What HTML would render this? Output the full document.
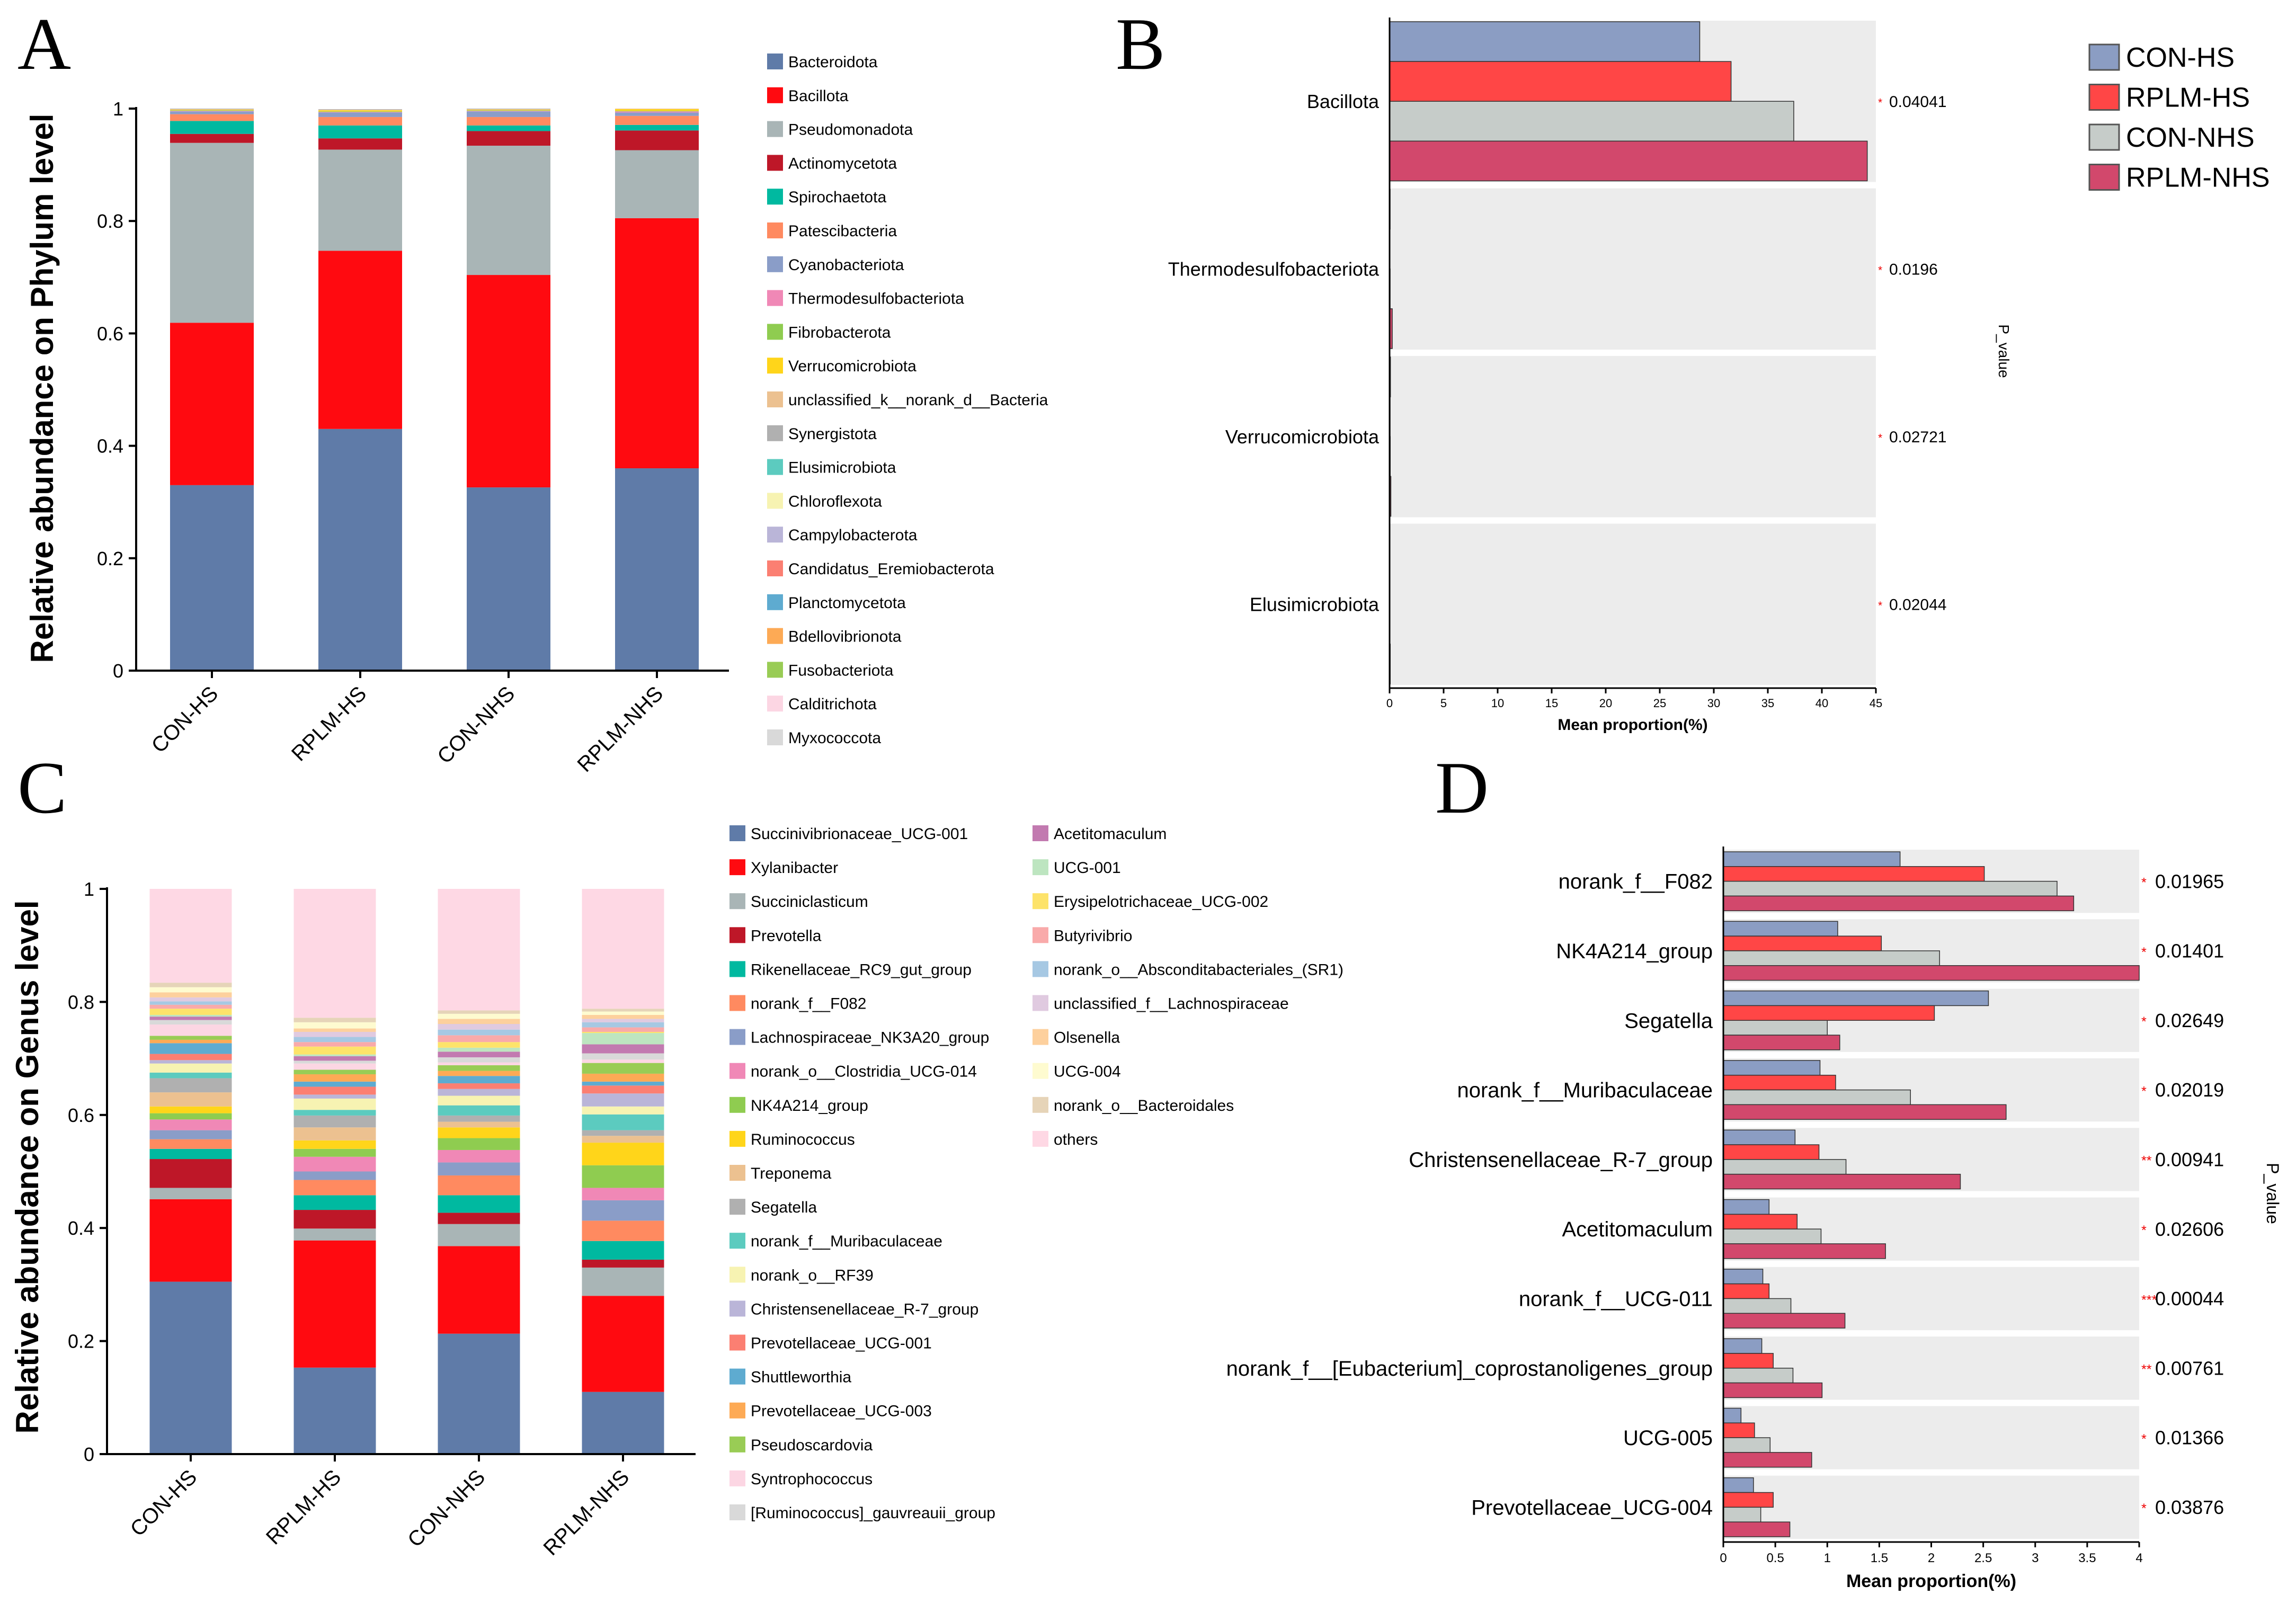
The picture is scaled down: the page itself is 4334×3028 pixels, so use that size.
<!DOCTYPE html>
<html><head><meta charset="utf-8"><style>
html,body{margin:0;padding:0;background:#fff}
svg{display:block;font-family:"Liberation Sans",Arial,sans-serif}
</style></head><body>
<svg id="fig" width="4334" height="3028" viewBox="0 0 4334 3028" xmlns="http://www.w3.org/2000/svg"></svg>
<script>
// ---------- DATA ----------
const groups = ["CON-HS","RPLM-HS","CON-NHS","RPLM-NHS"];
const groupColors = ["#8b9dc3","#ff4646","#c6ccc9","#d2486c"];
const phyla = ["Bacteroidota","Bacillota","Pseudomonadota","Actinomycetota","Spirochaetota","Patescibacteria","Cyanobacteriota","Thermodesulfobacteriota","Fibrobacterota","Verrucomicrobiota","unclassified_k__norank_d__Bacteria","Synergistota","Elusimicrobiota","Chloroflexota","Campylobacterota","Candidatus_Eremiobacterota","Planctomycetota","Bdellovibrionota","Fusobacteriota","Calditrichota","Myxococcota"];
const paletteA = ["#5f7ba8","#ff0a10","#a9b5b6","#be1728","#00b9a0","#ff8a60","#8a9dc8","#f088b6","#8fcc50","#ffd51a","#ecc190","#b0b0b0","#5ccbbf","#f7f3b2","#bab5d8","#fb7f72","#5eabd0","#fdaa55","#99cc55","#fcd6e3","#d9d9d9"];
const phylumConHS   = [0.330,0.289,0.320,0.016,0.023,0.012,0.005,0.001,0.001,0.001,0.001,0.001,0,0,0,0,0,0,0,0,0];
const phylumRplmHS  = [0.430,0.317,0.180,0.020,0.023,0.015,0.008,0.001,0.001,0.002,0.001,0.001,0,0,0,0,0,0,0,0,0];
const phylumConNHS  = [0.326,0.378,0.230,0.026,0.010,0.015,0.010,0.001,0.001,0.001,0.001,0.001,0,0,0,0,0,0,0,0,0];
const phylumRplmNHS = [0.360,0.445,0.121,0.035,0.010,0.016,0.006,0.002,0.001,0.003,0.001,0,0,0,0,0,0,0,0,0,0];
const genera = ["Succinivibrionaceae_UCG-001","Xylanibacter","Succiniclasticum","Prevotella","Rikenellaceae_RC9_gut_group","norank_f__F082","Lachnospiraceae_NK3A20_group","norank_o__Clostridia_UCG-014","NK4A214_group","Ruminococcus","Treponema","Segatella","norank_f__Muribaculaceae","norank_o__RF39","Christensenellaceae_R-7_group","Prevotellaceae_UCG-001","Shuttleworthia","Prevotellaceae_UCG-003","Pseudoscardovia","Syntrophococcus","[Ruminococcus]_gauvreauii_group","Acetitomaculum","UCG-001","Erysipelotrichaceae_UCG-002","Butyrivibrio","norank_o__Absconditabacteriales_(SR1)","unclassified_f__Lachnospiraceae","Olsenella","UCG-004","norank_o__Bacteroidales","others"];
const paletteC = ["#5f7ba8","#ff0a10","#a9b5b6","#be1728","#00b9a0","#ff8a60","#8a9dc8","#f088b6","#8fcc50","#ffd51a","#ecc190","#b0b0b0","#5ccbbf","#f7f3b2","#bab5d8","#fb7f72","#5eabd0","#fdaa55","#99cc55","#fcd6e3","#d9d9d9","#c27ab0","#bde5c0","#fde36a","#f9aaaa","#a6c8e3","#e0cae0","#fdd09d","#fefbd0","#e6d4b8","#fed8e4"];
const genusConHS   = [0.305,0.146,0.020,0.051,0.018,0.017,0.016,0.019,0.011,0.012,0.025,0.025,0.010,0.016,0.006,0.011,0.019,0.006,0.007,0.020,0.008,0.006,0.003,0.011,0.007,0.006,0.007,0.009,0.009,0.008,0.166];
const genusRplmHS  = [0.153,0.225,0.021,0.033,0.026,0.027,0.015,0.026,0.014,0.015,0.023,0.021,0.010,0.020,0.007,0.014,0.009,0.013,0.008,0.011,0.005,0.008,0.003,0.014,0.008,0.009,0.009,0.006,0.011,0.008,0.228];
const genusConNHS  = [0.213,0.155,0.039,0.020,0.031,0.035,0.023,0.022,0.021,0.019,0.010,0.011,0.018,0.017,0.012,0.010,0.013,0.009,0.010,0.005,0.009,0.010,0.007,0.010,0.012,0.010,0.010,0.009,0.009,0.006,0.215];
const genusRplmNHS = [0.110,0.170,0.050,0.014,0.033,0.036,0.036,0.022,0.040,0.040,0.012,0.010,0.028,0.014,0.023,0.014,0.007,0.014,0.019,0.006,0.011,0.016,0.020,0.002,0.008,0.009,0.006,0.007,0.006,0.005,0.212];
const yTicksStack = [0,0.2,0.4,0.6,0.8,1];
const yTickLabelsStack = ["0","0.2","0.4","0.6","0.8","1"];
const taxaB = ["Bacillota","Thermodesulfobacteriota","Verrucomicrobiota","Elusimicrobiota"];
const bConHS   = [28.7,0.05,0.08,0.03];
const bRplmHS  = [31.6,0.03,0.05,0.02];
const bConNHS  = [37.4,0.05,0.06,0.02];
const bRplmNHS = [44.2,0.25,0.12,0.06];
const pB = ["0.04041","0.0196","0.02721","0.02044"];
const starsB = ["*","*","*","*"];
const xTicksB = [0,5,10,15,20,25,30,35,40,45];
const taxaD = ["norank_f__F082","NK4A214_group","Segatella","norank_f__Muribaculaceae","Christensenellaceae_R-7_group","Acetitomaculum","norank_f__UCG-011","norank_f__[Eubacterium]_coprostanoligenes_group","UCG-005","Prevotellaceae_UCG-004"];
const dConHS   = [1.70,1.10,2.55,0.93,0.69,0.44,0.38,0.37,0.17,0.29];
const dRplmHS  = [2.51,1.52,2.03,1.08,0.92,0.71,0.44,0.48,0.30,0.48];
const dConNHS  = [3.21,2.08,1.00,1.80,1.18,0.94,0.65,0.67,0.45,0.36];
const dRplmNHS = [3.37,4.00,1.12,2.72,2.28,1.56,1.17,0.95,0.85,0.64];
const pD = ["0.01965","0.01401","0.02649","0.02019","0.00941","0.02606","0.00044","0.00761","0.01366","0.03876"];
const starsD = ["*","*","*","*","**","*","***","**","*","*"];
const xTicksD = [0,0.5,1,1.5,2,2.5,3,3.5,4];
const xTickLabelsD = ["0","0.5","1","1.5","2","2.5","3","3.5","4"];

// ---------- HELPERS ----------
const NS="http://www.w3.org/2000/svg";
const svg=document.getElementById('fig');
function mk(tag,attrs,parent){const e=document.createElementNS(NS,tag);for(const k in attrs)e.setAttribute(k,attrs[k]);(parent||svg).appendChild(e);return e;}
function txt(s,attrs,parent){const e=mk('text',attrs,parent);e.textContent=s;return e;}

// ---------- PANEL LETTERS ----------
[["A",33,130],["B",2106,130],["C",33,1534],["D",2709,1534]].forEach(([l,x,y])=>{
  const t=txt(l,{x:x,y:y,'font-size':140,'font-family':'"Liberation Serif",serif'});
  
  
});

// ---------- STACKED PANELS ----------
function stacked(cfg){
  const g=mk('g',{});
  
  
  const yS=v=>cfg.y0-(cfg.y0-cfg.y1)*v;
  const series=cfg.series;
  groups.forEach((grp,i)=>{
    const cx=cfg.x0+cfg.firstC+i*cfg.step;
    let acc=0;
    series[i].forEach((v,j)=>{
      if(v<=0)return;
      const r=mk('rect',{x:cx-cfg.bw/2,y:yS(acc+v),width:cfg.bw,height:yS(acc)-yS(acc+v),fill:cfg.colors[j]},g);
      
      
      acc+=v;
    });
    const tk=mk('line',{x1:cx,x2:cx,y1:cfg.y0,y2:cfg.y0+14,stroke:'#000','stroke-width':4},g);
    
    
    const lb=txt(grp,{x:cx+14,y:cfg.y0+46,'font-size':40,'text-anchor':'end',transform:`rotate(-45 ${cx+14} ${cfg.y0+46})`},g);
    
    
  });
  const ax=mk('line',{x1:cfg.x0,x2:cfg.x0,y1:cfg.y1-3,y2:cfg.y0,stroke:'#000','stroke-width':4},g);
  
  
  const bx=mk('line',{x1:cfg.x0-14,x2:cfg.xEnd,y1:cfg.y0,y2:cfg.y0,stroke:'#000','stroke-width':4},g);
  
  
  yTicksStack.forEach((v,k)=>{
    const t=mk('line',{x1:cfg.x0-14,x2:cfg.x0,y1:yS(v),y2:yS(v),stroke:'#000','stroke-width':4},g);
    
    
    const l=txt(yTickLabelsStack[k],{x:cfg.x0-24,y:yS(v)+13,'font-size':36,'text-anchor':'end'},g);
    
    
  });
  const yt=txt(cfg.ytitle,{x:cfg.tx,y:cfg.ty,'font-size':60,'font-weight':'bold','text-anchor':'middle',transform:`rotate(-90 ${cfg.tx} ${cfg.ty})`},g);
  
  
  cfg.legendCols.forEach(col=>{
    for(let k=col.from;k<col.to;k++){
      const yy=col.y+(k-col.from)*cfg.lstep;
      const sq=mk('rect',{x:col.x,y:yy-15,width:30,height:30,fill:cfg.colors[k]},g);
      
      
      const lt=txt(cfg.labels[k],{x:col.x+40,y:yy+11,'font-size':30},g);
      
      
    }
  });
}
stacked({name:'panel-a-phylum-chart',x0:257,y0:1266,y1:205,xEnd:1376,firstC:143,step:280,bw:158,
  series:[phylumConHS,phylumRplmHS,phylumConNHS,phylumRplmNHS],colors:paletteA,labels:phyla,
  ytitle:'Relative abundance on Phylum level',tx:100,ty:733,
  legendCols:[{x:1448,y:116,from:0,to:21}],lstep:63.8});
stacked({name:'panel-c-genus-chart',x0:202,y0:2745,y1:1678,xEnd:1313,firstC:158,step:272,bw:155,
  series:[genusConHS,genusRplmHS,genusConNHS,genusRplmNHS],colors:paletteC,labels:genera,
  ytitle:'Relative abundance on Genus level',tx:72,ty:2203,
  legendCols:[{x:1377,y:1573,from:0,to:21},{x:1949,y:1573,from:21,to:31}],lstep:64.1});

// ---------- HORIZONTAL BAR PANELS ----------
function hbar(cfg){
  const g=mk('g',{});
  
  
  const xS=v=>cfg.x0+(cfg.x1-cfg.x0)*v/cfg.max;
  const n=cfg.taxa.length;
  const gh=(cfg.yb-cfg.yt)/n;
  cfg.taxa.forEach((tx,i)=>{
    const top=cfg.yt+i*gh;
    const bg=mk('rect',{x:cfg.x0,y:top+cfg.gap,width:cfg.x1-cfg.x0,height:gh-2*cfg.gap,fill:'#ececec'},g);
    
    
    const bh=(gh-2*cfg.gap-cfg.pad*2)/4;
    cfg.series.forEach((s,j)=>{
      const w=Math.max(xS(s[i])-cfg.x0,0);
      const r=mk('rect',{x:cfg.x0,y:top+cfg.gap+cfg.pad+j*bh,width:w,height:bh,fill:groupColors[j],stroke:'#333','stroke-width':1.5},g);
      
      
    });
    const cy=top+gh/2;
    const lb=txt(tx,{x:cfg.x0-20,y:cy+cfg.lf*0.35,'font-size':cfg.lf,'text-anchor':'end'},g);
    
    
    const st=txt(cfg.stars[i],{x:cfg.x1+4,y:cy+cfg.pf*0.3,'font-size':cfg.pf*0.7,fill:'#e00'},g);
    
    
    const pv=txt(cfg.p[i],{x:cfg.px,y:cy+cfg.pf*0.35,'font-size':cfg.pf},g);
    
    
  });
  const ax=mk('line',{x1:cfg.x0,x2:cfg.x0,y1:cfg.yt,y2:cfg.yb,stroke:'#000','stroke-width':3},g);
  
  
  const bx=mk('line',{x1:cfg.x0,x2:cfg.x1,y1:cfg.yb,y2:cfg.yb,stroke:'#000','stroke-width':3},g);
  
  
  cfg.ticks.forEach((v,k)=>{
    const t=mk('line',{x1:xS(v),x2:xS(v),y1:cfg.yb,y2:cfg.yb+10,stroke:'#000','stroke-width':3},g);
    
    
    const l=txt(cfg.tickLabels[k],{x:xS(v),y:cfg.yb+cfg.tf+14,'font-size':cfg.tf,'text-anchor':'middle'},g);
    
    
  });
  const xt=txt('Mean proportion(%)',{x:(cfg.x0+cfg.x1)/2,y:cfg.titleY,'font-size':cfg.titleF,'font-weight':'bold','text-anchor':'middle'},g);
  
  
  const pt=txt('P_value',{x:cfg.pvx,y:cfg.pvy,'font-size':cfg.pvf,'text-anchor':'middle',transform:`rotate(90 ${cfg.pvx} ${cfg.pvy})`},g);
  
  
}
hbar({name:'panel-b-phylum-comparison',x0:2623,x1:3541,yt:33,yb:1299,max:45,gap:6,pad:2,
  taxa:taxaB,series:[bConHS,bRplmHS,bConNHS,bRplmNHS],p:pB,stars:starsB,lf:36,pf:30,px:3566,
  ticks:xTicksB,tickLabels:xTicksB.map(String),tf:22,titleY:1378,titleF:30,pvx:3773,pvy:663,pvf:28});
hbar({name:'panel-d-genus-comparison',x0:3253,x1:4038,yt:1598,yb:2911,max:4,gap:6,pad:4,
  taxa:taxaD,series:[dConHS,dRplmHS,dConNHS,dRplmNHS],p:pD,stars:starsD,lf:40,pf:36,px:4068,
  ticks:xTicksD,tickLabels:xTickLabelsD,tf:24,titleY:2996,titleF:34,pvx:4279,pvy:2253,pvf:32});

// ---------- LEGEND B ----------
const lg=mk('g',{});


groups.forEach((grp,j)=>{
  const yy=108+j*75.5;
  const sq=mk('rect',{x:3944,y:yy-24,width:56,height:48,fill:groupColors[j],stroke:'#555','stroke-width':3},lg);
  
  
  const t=txt(grp,{x:4013,y:yy+18,'font-size':52},lg);
  
  
});
</script>
</body></html>
